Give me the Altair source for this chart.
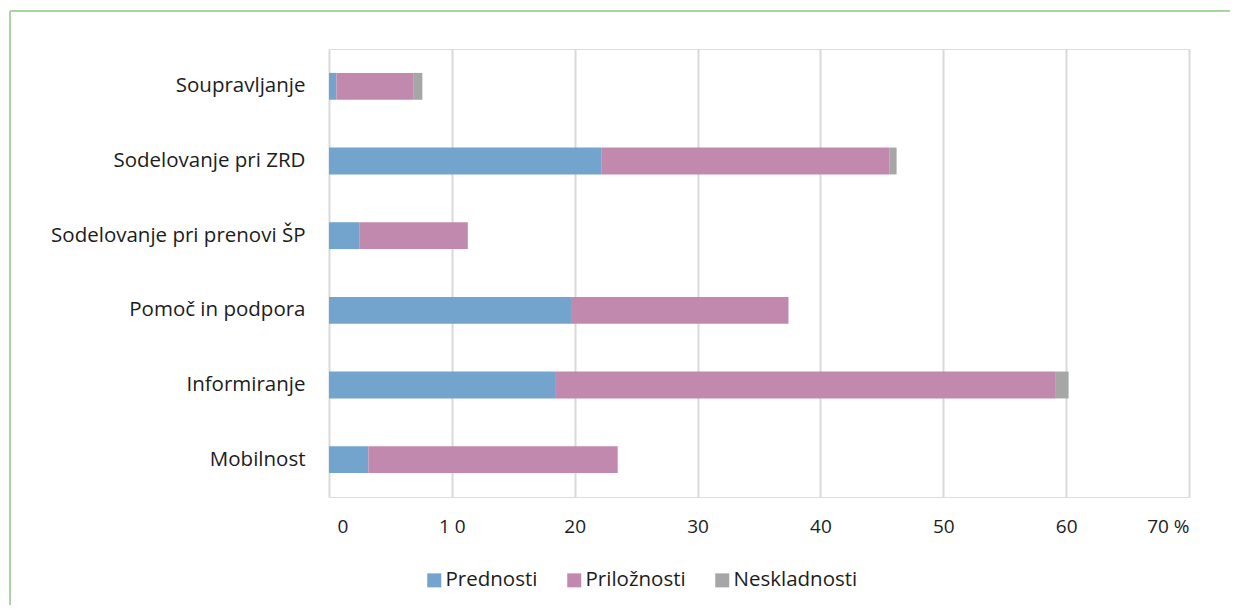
import altair as alt
import pandas as pd

categories = ["Soupravljanje", "Sodelovanje pri ZRD", "Sodelovanje pri prenovi ŠP",
              "Pomoč in podpora", "Informiranje", "Mobilnost"]
prednosti = [0.6, 22.2, 2.5, 19.7, 18.4, 3.2]
priloznosti = [6.3, 23.4, 8.8, 17.7, 40.7, 20.3]
neskladnosti = [0.7, 0.6, 0.0, 0.0, 1.1, 0.0]
series = ["Prednosti", "Priložnosti", "Neskladnosti"]
colors = ["#72a4cd", "#c289ae", "#a6a6a6"]
tick_values = [0, 10, 20, 30, 40, 50, 60, 70]
tick_labels = ["0", "1 0", "20", "30", "40", "50", "60", "70 %"]

rows = []
for i, c in enumerate(categories):
    for s, vals in zip(series, [prednosti, priloznosti, neskladnosti]):
        rows.append({"cat": c, "series": s, "value": vals[i], "ord": series.index(s)})
df = pd.DataFrame(rows)

label_expr = "[" + ",".join(f"'{t}'" for t in tick_labels) + "][indexof([" + ",".join(str(v) for v in tick_values) + "], datum.value)]"

FONT = "Open Sans"
FS = 20.5
TXT = "#1c1c1c"
W, H = 860, 448

bars = alt.Chart(df).mark_bar().encode(
    y=alt.Y("cat:N", sort=categories, title=None,
            scale=alt.Scale(paddingInner=0.64, paddingOuter=0.32),
            axis=alt.Axis(domain=False, ticks=False, labelPadding=24, labelLimit=400,
                          labelFontSize=FS, labelColor=TXT, labelFont=FONT, grid=False)),
    x=alt.X("value:Q", stack="zero", title=None,
            scale=alt.Scale(domain=[0, 70], nice=False),
            axis=alt.Axis(values=tick_values, labelExpr=label_expr, domain=False, ticks=False,
                          labelPadding=20, labelFontSize=19, labelColor=TXT, labelFont=FONT,
                          labelOffset={"condition": {"test": "datum.value == 0", "value": 8}, "value": 0},
                          grid=True, gridColor="#d9d9d9", gridWidth=2)),
    color=alt.Color("series:N", sort=series,
                    scale=alt.Scale(domain=series, range=colors),
                    legend=alt.Legend(title=None, orient="none", direction="horizontal",
                                      legendX=95, legendY=521, symbolType="square",
                                      symbolSize=196, symbolStrokeWidth=0, labelFontSize=FS,
                                      labelFont=FONT, labelColor=TXT, columnPadding=26,
                                      labelOffset=1)),
    order=alt.Order("ord:Q"),
)

border_top = alt.Chart(pd.DataFrame({"k": [0]})).mark_rule(color="#a8d5a2", strokeWidth=2).encode(
    x=alt.value(-319), x2=alt.value(W + 60), y=alt.value(-38))
border_left = alt.Chart(pd.DataFrame({"k": [0]})).mark_rule(color="#a8d5a2", strokeWidth=2).encode(
    x=alt.value(-319), y=alt.value(-38), y2=alt.value(H + 120))

chart = alt.layer(bars, border_top, border_left).properties(
    width=W, height=H,
    padding={"left": 321, "top": 41, "right": 41, "bottom": 108},
    autosize=alt.AutoSizeParams(type="none"),
).configure_view(stroke=None).configure(background="#ffffff")

chart.save("out.html", embed_options={"renderer": "svg", "actions": False})
